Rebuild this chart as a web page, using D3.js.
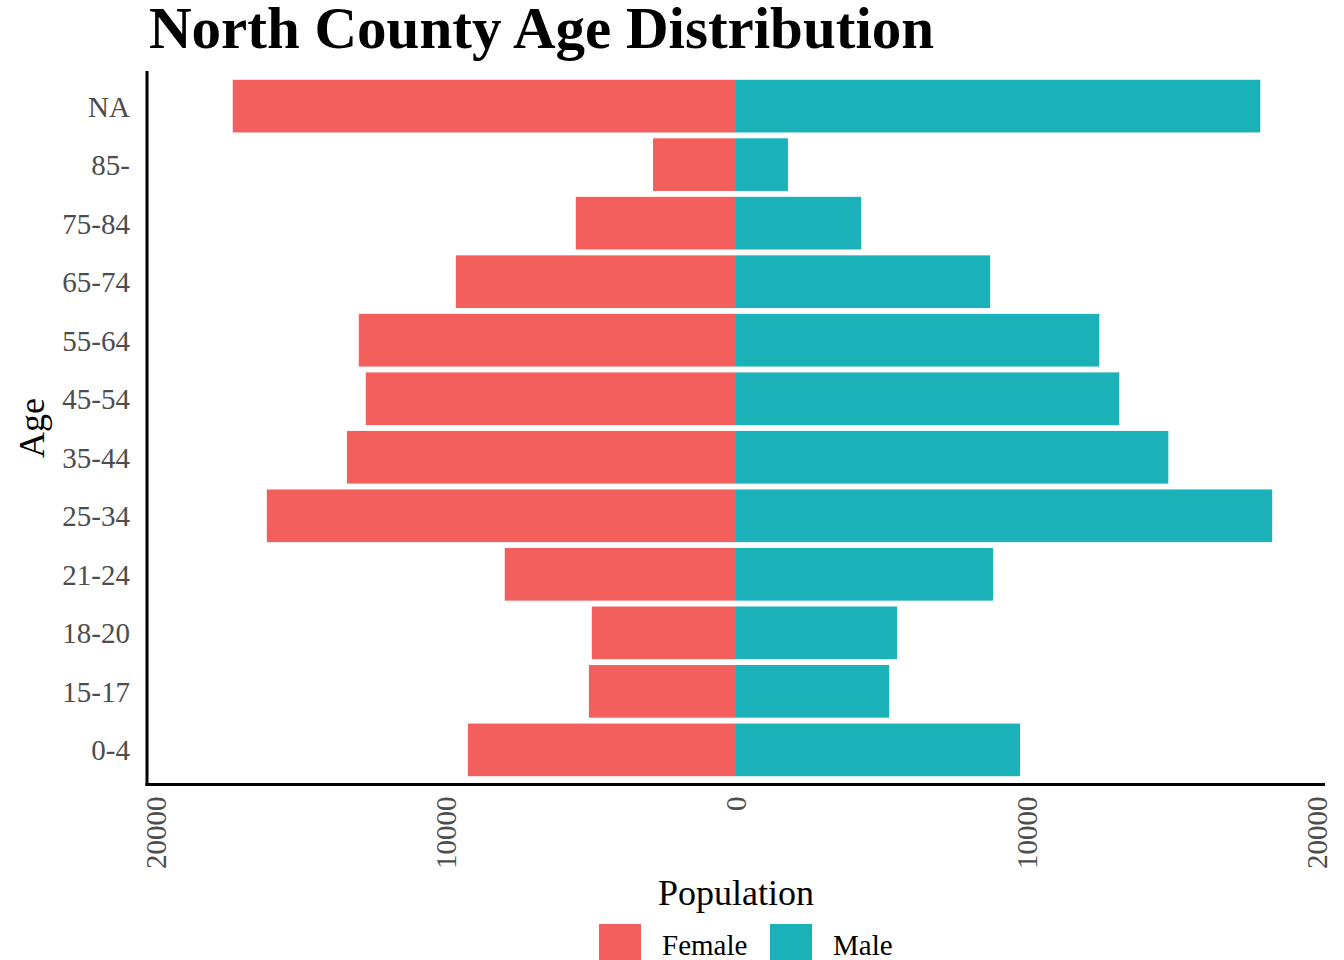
<!DOCTYPE html>
<html>
<head>
<meta charset="utf-8">
<script src="https://cdn.jsdelivr.net/npm/d3@7"></script>
<style>
  html, body { margin: 0; padding: 0; background: #ffffff; }
  svg { display: block; }
  text { font-family: "Liberation Serif", "Times New Roman", serif; }
</style>
</head>
<body>
<svg id="chart" width="1344" height="960"></svg>
<script>
// ---- data ----
const ageGroups = ["0-4", "15-17", "18-20", "21-24", "25-34", "35-44", "45-54", "55-64", "65-74", "75-84", "85-", "NA"];
const femalePop = [9240, 5070, 4970, 7970, 16170, 13410, 12760, 13000, 9655, 5520, 2860, 17345];
const malePop   = [9790, 5280, 5550, 8860, 18480, 14900, 13210, 12520, 8760, 4310, 1790, 18070];
const xTicks = [-20000, -10000, 0, 10000, 20000];
const xLimit = 20300;
const sexes = ["Female", "Male"];
const colors = ["#F25F5C", "#1AB2B8"];

// ---- layout ----
const svg = d3.select("#chart");
svg.append("rect").attr("width", 1344).attr("height", 960).attr("fill", "#ffffff");

const panel = { left: 147, right: 1325, top: 71, bottom: 785 };

const x = d3.scaleLinear().domain([-xLimit, xLimit]).range([panel.left, panel.right]);
const y = d3.scaleBand()
  .domain(ageGroups)
  .range([panel.bottom, panel.top])
  .paddingInner(0.1)
  .paddingOuter(0.15);

const color = d3.scaleOrdinal().domain(sexes).range(colors);

const rows = ageGroups.map((g, i) => ({ group: g, female: femalePop[i], male: malePop[i] }));

// female bars (negative side)
svg.append("g").selectAll("rect.f")
  .data(rows).join("rect")
  .attr("x", d => x(-d.female))
  .attr("y", d => y(d.group))
  .attr("width", d => x(0) - x(-d.female))
  .attr("height", y.bandwidth())
  .attr("fill", color("Female"));

// male bars
svg.append("g").selectAll("rect.m")
  .data(rows).join("rect")
  .attr("x", x(0))
  .attr("y", d => y(d.group))
  .attr("width", d => x(d.male) - x(0))
  .attr("height", y.bandwidth())
  .attr("fill", color("Male"));

// ---- axes ----
const xAxis = svg.append("g")
  .attr("transform", `translate(0,${panel.bottom - 0.5})`)
  .call(d3.axisBottom(x).tickValues(xTicks).tickSize(0).tickFormat(d => Math.abs(d)));
xAxis.select(".domain").remove();
xAxis.selectAll("text")
  .attr("transform", "rotate(-90)")
  .attr("text-anchor", "end")
  .attr("x", -12)
  .attr("y", 0)
  .attr("dy", "0.34em")
  .attr("font-size", 29)
  .attr("font-family", "Liberation Serif, serif")
  .attr("fill", "#4D4D4D");

const yAxis = svg.append("g")
  .attr("transform", `translate(${panel.left},0)`)
  .call(d3.axisLeft(y).tickSize(0));
yAxis.select(".domain").remove();
yAxis.selectAll("text")
  .attr("x", -17)
  .attr("dy", "0.36em")
  .attr("font-size", 29)
  .attr("font-family", "Liberation Serif, serif")
  .attr("fill", "#4D4D4D");

// axis lines
svg.append("line")
  .attr("x1", panel.left).attr("x2", panel.left)
  .attr("y1", panel.top).attr("y2", panel.bottom + 1)
  .attr("stroke", "#000").attr("stroke-width", 3);
svg.append("line")
  .attr("x1", panel.left - 1.5).attr("x2", panel.right)
  .attr("y1", panel.bottom - 0.5).attr("y2", panel.bottom - 0.5)
  .attr("stroke", "#000").attr("stroke-width", 3);

// ---- titles ----
svg.append("text")
  .attr("x", 149).attr("y", 48)
  .attr("font-size", 59).attr("font-weight", "bold")
  .attr("fill", "#000")
  .text("North County Age Distribution");

svg.append("text")
  .attr("x", x(0)).attr("y", 905)
  .attr("text-anchor", "middle")
  .attr("font-size", 36).attr("fill", "#000")
  .text("Population");

svg.append("text")
  .attr("transform", `translate(44,${(panel.top + panel.bottom) / 2}) rotate(-90)`)
  .attr("text-anchor", "middle")
  .attr("font-size", 36).attr("fill", "#000")
  .text("Age");

// ---- legend ----
const legendItems = [
  { label: "Female", keyX: 599 },
  { label: "Male", keyX: 770 }
];
const legend = svg.append("g");
legend.selectAll("rect")
  .data(legendItems).join("rect")
  .attr("x", d => d.keyX).attr("y", 924)
  .attr("width", 42).attr("height", 42)
  .attr("fill", d => color(d.label));
legend.selectAll("text")
  .data(legendItems).join("text")
  .attr("x", d => d.keyX + 63).attr("y", 955)
  .attr("font-size", 29).attr("fill", "#000")
  .text(d => d.label);
</script>
</body>
</html>
